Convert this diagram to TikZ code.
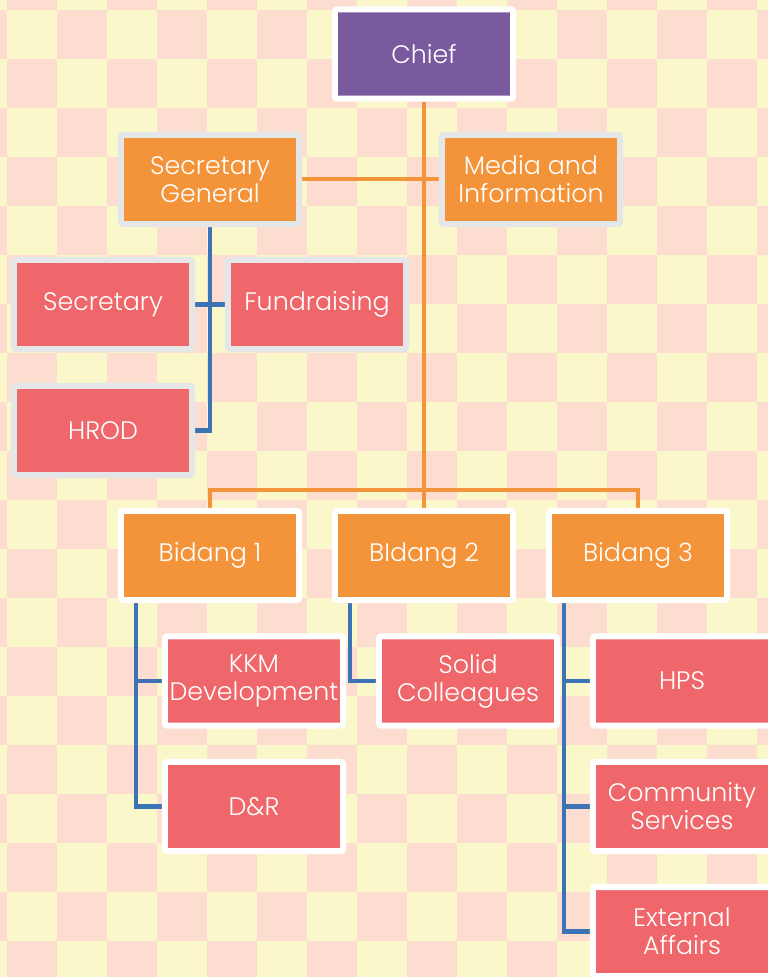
\documentclass[tikz,border=0pt]{standalone}
\usepackage{fontspec}
\setmainfont{Poppins}[UprightFont=* Light]
\usetikzlibrary{shadows,backgrounds}

\definecolor{chiefpurple}{HTML}{7A5A9F}
\definecolor{headorange}{HTML}{F4943A}
\definecolor{unitred}{HTML}{EF676A}
\definecolor{paleedge}{HTML}{E5E6E8}
\definecolor{linkblue}{HTML}{3B73B5}
\definecolor{cellyellow}{HTML}{FAF8CB}
\definecolor{cellpink}{HTML}{FCDDD0}

\begin{document}
\begin{tikzpicture}[x=0.025cm, y=-0.025cm,
  every node/.style={minimum width=4.45cm, minimum height=2.225cm, line width=0.15cm, rounded corners=0.05cm, inner sep=0pt, align=center, text=white, font=\fontsize{18}{20}\selectfont, drop shadow={shadow xshift=0.02cm, shadow yshift=-0.06cm, opacity=0.3}},
  pale/.style={draw=paleedge},
  bright/.style={draw=white},
  link/.style={line width=0.1cm, color=headorange},
  sub/.style={line width=0.11cm, color=linkblue}]
\useasboundingbox (0,0) rectangle (768,977);

% checkered backdrop
\begin{scope}[on background layer]
\clip (0,0) rectangle (768,977);
\fill[cellyellow] (0,0) rectangle (768,977);
\foreach \i in {-1,...,15}
  \foreach \j in {-1,...,19} {
    \pgfmathtruncatemacro\odd{mod(\i+\j+2,2)}
    \ifnum\odd=1 \fill[cellpink] ({7+50*\i},{10+49*\j}) rectangle ++(50,49); \fi
  }
\end{scope}

\node[bright, fill=chiefpurple] (chief) at (424,54) {Chief};

\node[pale, fill=headorange] (secgen) at (210,179.5) {Secretary\\General};
\node[pale, fill=headorange] (media) at (531,179.5) {Media and\\Information};

\node[pale, fill=unitred] (secretary) at (103,304.5) {Secretary};
\node[pale, fill=unitred] (fundraising) at (317,304.5) {Fundraising};
\node[pale, fill=unitred] (hrod) at (103,430.5) {HROD};

\node[bright, fill=headorange] (bidang1) at (210,555.5) {Bidang 1};
\node[bright, fill=headorange] (bidang2) at (424,555.5) {BIdang 2};
\node[bright, fill=headorange] (bidang3) at (638,555.5) {Bidang 3};

\node[bright, fill=unitred] (kkm) at (254,681) {KKM\\Development};
\node[bright, fill=unitred] (dr) at (254,806.5) {D\&R};
\node[bright, fill=unitred] (solid) at (468,681) {Solid\\Colleagues};
\node[bright, fill=unitred] (hps) at (682,681) {HPS};
\node[bright, fill=unitred] (community) at (682,806.5) {Community\\Services};
\node[bright, fill=unitred] (external) at (682,931.5) {External\\Affairs};

% connectors
\begin{scope}[on background layer]
\draw[link] (chief.south) -- (bidang2.north);
\draw[link] (bidang1.north) -- ++(0,-18) -| (bidang3.north);
\draw[link] (secgen.east) -- (media.west);

\draw[sub] (secgen.south) |- (hrod.east);
\draw[sub] (secretary.east) -- (fundraising.west);

\draw[sub] ([xshift=0.45cm]bidang1.south west) |- (dr.west);
\draw[sub] ([xshift=0.45cm]bidang1.south west) |- (kkm.west);
\draw[sub] ([xshift=0.45cm]bidang2.south west) |- (solid.west);
\draw[sub] ([xshift=0.45cm]bidang3.south west) |- (external.west);
\draw[sub] ([xshift=0.45cm]bidang3.south west) |- (hps.west);
\draw[sub] ([xshift=0.45cm]bidang3.south west) |- (community.west);
\end{scope}
\end{tikzpicture}
\end{document}
